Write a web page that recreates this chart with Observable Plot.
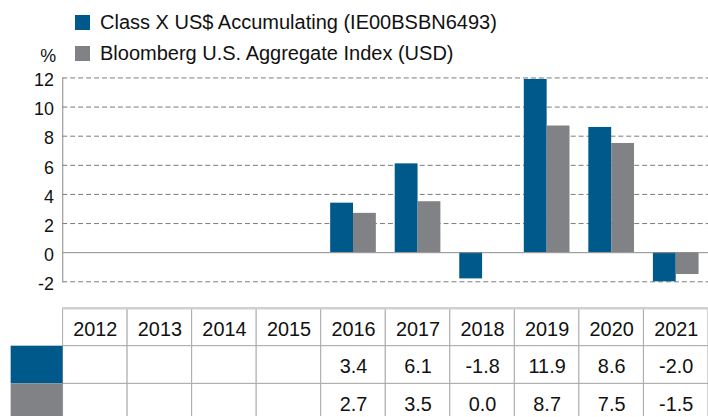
<!DOCTYPE html>
<html>
<head>
<meta charset="utf-8">
<script src="https://cdn.jsdelivr.net/npm/d3@7"></script>
<script src="https://cdn.jsdelivr.net/npm/@observablehq/plot@0.6"></script>
<style>
  html, body { margin: 0; padding: 0; background: #fff; }
  body { width: 708px; height: 417px; overflow: hidden; position: relative; font-family: "Liberation Sans", Arial, sans-serif; }
  #chart { position: absolute; left: 0; top: 0; }
  #table { position: absolute; left: 0; top: 300px; }
  #legend { position: absolute; left: 75px; top: 7px; }
  .item { display: flex; align-items: center; height: 31px; font-size: 20px; color: #111; white-space: nowrap; }
  .sw { width: 15px; height: 15px; margin-right: 10px; }
</style>
</head>
<body>
<div id="chart"></div>
<div id="table"></div>
<div id="legend"></div>
<script>
const years = ["2012","2013","2014","2015","2016","2017","2018","2019","2020","2021"];
const fundValues = [null, null, null, null, 3.4, 6.1, -1.8, 11.9, 8.6, -2.0];
const benchValues = [null, null, null, null, 2.7, 3.5, 0.0, 8.7, 7.5, -1.5];
const seriesNames = ["Class X US$ Accumulating (IE00BSBN6493)", "Bloomberg U.S. Aggregate Index (USD)"];
const seriesKeys = ["fund", "bench"];
const seriesColors = ["#00598b", "#808285"];
const yTicks = [-2, 0, 2, 4, 6, 8, 10, 12];
const yUnit = "%";

const font = "Liberation Sans, Arial, sans-serif";
const fundData = years.map((y, i) => ({year: y, value: fundValues[i]})).filter(d => d.value != null);
const benchData = years.map((y, i) => ({year: y, value: benchValues[i]})).filter(d => d.value != null);

const xCfg = {type: "band", domain: years, padding: 0, axis: null};

// Chart
const chart = Plot.plot({
  width: 713, height: 300,
  marginLeft: 62.7, marginRight: 0, marginTop: 78, marginBottom: 16.7,
  style: {fontFamily: font, fontSize: "18px", color: "#111", background: "white"},
  x: xCfg,
  y: {domain: [-2, 12], ticks: yTicks},
  marks: [
    Plot.gridY(yTicks.filter(t => t !== 0), {stroke: "#7a7a7a", strokeOpacity: 1, strokeDasharray: "5,3", strokeWidth: 1}),
    Plot.barY(fundData, {x: "year", y: "value", fill: seriesColors[0], insetLeft: 9.5, insetRight: 32.5}),
    Plot.barY(benchData, {x: "year", y: "value", fill: seriesColors[1], insetLeft: 32.5, insetRight: 9.5}),
    Plot.ruleY([0], {stroke: "#8a8a8a", strokeWidth: 1}),
    Plot.frame({anchor: "left", stroke: "#8a8a8a", strokeWidth: 1}),
    Plot.axisY({ticks: yTicks, tickFormat: d => String(d), tickSize: 0, tickPadding: 9, fontSize: 18, dy: 2.5, label: null, fill: "#111"}),
    Plot.text([yUnit], {frameAnchor: "top-left", dx: -14.7, dy: -22, lineAnchor: "middle", fontSize: 18, fill: "#111", textAnchor: "middle"})
  ]
});
document.getElementById("chart").appendChild(chart);

// Table
const rows = ["year", ...seriesKeys];
const cells = [];
years.forEach((y, i) => {
  cells.push({year: y, row: "year", label: y});
  cells.push({year: y, row: "fund", label: fundValues[i] == null ? "" : fundValues[i].toFixed(1)});
  cells.push({year: y, row: "bench", label: benchValues[i] == null ? "" : benchValues[i].toFixed(1)});
});
const swatches = seriesKeys.map((k, i) => ({row: k, color: seriesColors[i]}));

const table = Plot.plot({
  width: 713, height: 117,
  marginLeft: 62.7, marginRight: 0, marginTop: 0, marginBottom: 0,
  style: {fontFamily: font, fontSize: "20px", color: "#111", background: "white"},
  x: xCfg,
  y: {type: "band", domain: rows, range: [7, 122.5], padding: 0, axis: null},
  marks: [
    Plot.cell(cells, {x: "year", y: "row", fill: "white", stroke: "#ababab", strokeWidth: 1}),
    Plot.cell(swatches, {x: () => years[0], y: "row", fill: "color", dx: -65, insetLeft: 12.7}),
    Plot.ruleY(["year"], {y: d => d, dy: -19.25, stroke: "#d0d0d0", strokeWidth: 2.5}),
    Plot.text(cells, {x: "year", y: "row", text: "label", fontSize: 20, fill: "#111", dy: 2})
  ]
});
document.getElementById("table").appendChild(table);

// Legend
const legend = document.getElementById("legend");
seriesNames.forEach((n, i) => {
  const it = document.createElement("div");
  it.className = "item";
  const sw = document.createElement("div");
  sw.className = "sw";
  sw.style.background = seriesColors[i];
  it.appendChild(sw);
  it.appendChild(document.createTextNode(n));
  legend.appendChild(it);
});
</script>
</body>
</html>
